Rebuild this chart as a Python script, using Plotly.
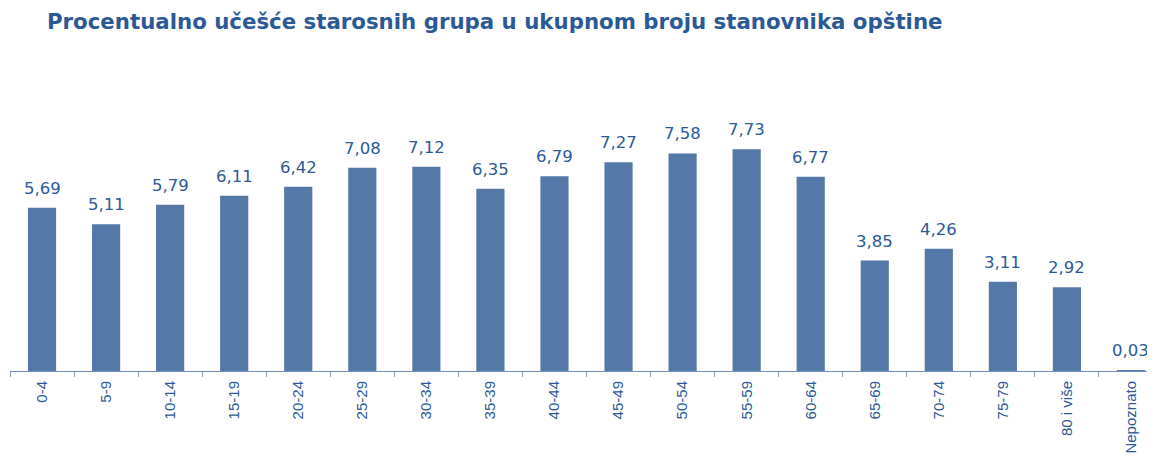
import plotly.graph_objects as go

categories = ["0-4", "5-9", "10-14", "15-19", "20-24", "25-29", "30-34", "35-39", "40-44",
              "45-49", "50-54", "55-59", "60-64", "65-69", "70-74", "75-79", "80 i više", "Nepoznato"]
values = [5.69, 5.11, 5.79, 6.11, 6.42, 7.08, 7.12, 6.35, 6.79, 7.27, 7.58, 7.73, 6.77,
          3.85, 4.26, 3.11, 2.92, 0.03]
labels = [f"{v:.2f}".replace(".", ",") for v in values]

title_text = "Procentualno učešće starosnih grupa u ukupnom broju stanovnika opštine"

bar_color = "#5479a9"
text_color = "#2b5a97"

fig = go.Figure()
fig.add_trace(go.Bar(x=categories, y=values, marker=dict(color=bar_color, line=dict(width=0)),
                     hoverinfo="x+y"))

for c, v, t in zip(categories, values, labels):
    fig.add_annotation(x=c, y=v, text=t, showarrow=False, yanchor="bottom", yshift=8,
                       font=dict(family="DejaVu Sans", size=16.5, color=text_color))

fig.update_layout(
    width=1155, height=457,
    margin=dict(l=2, r=0, t=76, b=94, autoexpand=False),
    paper_bgcolor="white", plot_bgcolor="white",
    bargap=0.56,
    showlegend=False,
    title=dict(text="<b>" + title_text + "</b>", x=39 / 1155, xanchor="left", y=1 - 14 / 457,
               yanchor="middle", font=dict(family="DejaVu Sans", size=21.3, color="#2a5a96")),
)
fig.update_xaxes(range=[-0.5, 17.5], showline=True, linecolor="#6f90c0", linewidth=1,
                 ticks="outside", tickson="boundaries", ticklen=5, tickcolor="#7f9cc8",
                 tickangle=-90, showgrid=False, automargin=False, ticklabelstandoff=3,
                 tickfont=dict(family="Liberation Sans", size=15, color=text_color))
fig.update_yaxes(range=[0, 10], visible=False, showgrid=False, automargin=False)

fig.write_html("out.html")
